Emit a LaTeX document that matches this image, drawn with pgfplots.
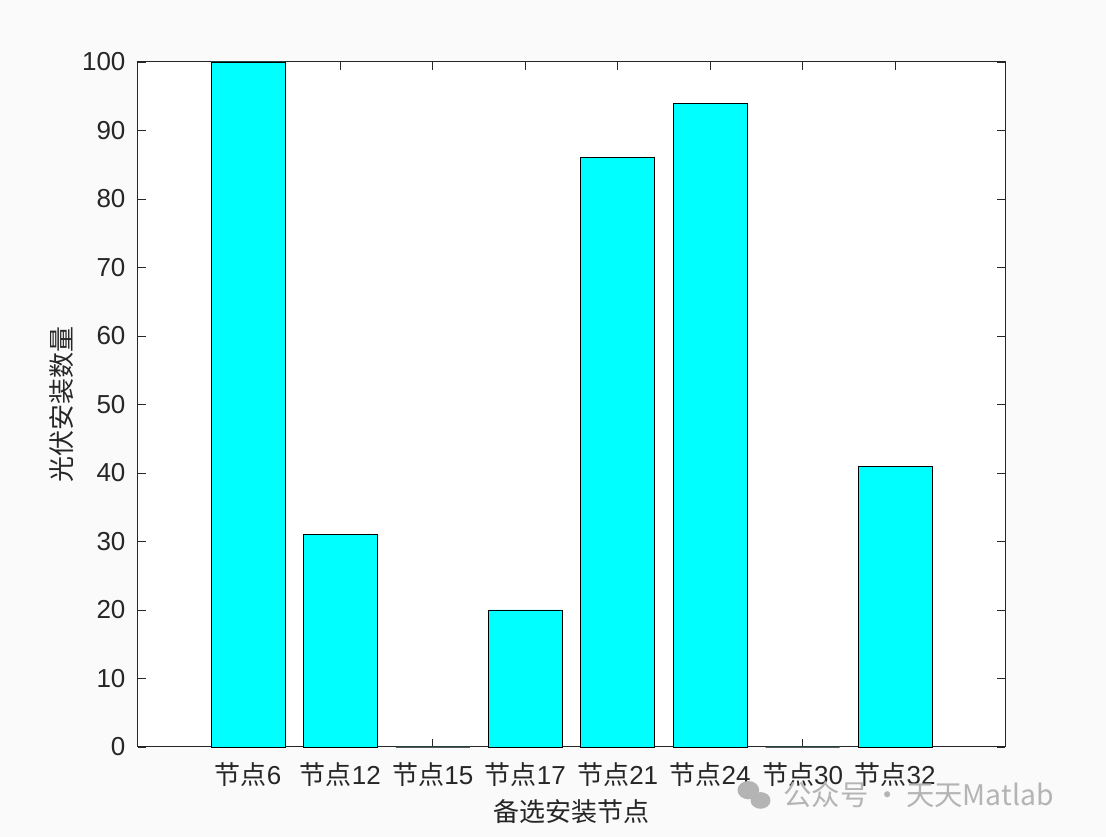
\documentclass[border=0pt]{standalone}
\usepackage{pgfplots}
\pgfplotsset{compat=1.18}
\usepackage{fontspec}
\setmainfont{Liberation Sans}
\newfontfamily\cjk{Noto Sans CJK SC}
\definecolor{figbg}{HTML}{FAFAFA}
\definecolor{wm}{HTML}{B4B4B4}
\definecolor{barcyan}{RGB}{0,255,255}
\definecolor{txt}{HTML}{262626}
\begin{document}
\begin{tikzpicture}
\fill[figbg] (-82.8pt,-54pt) rectangle (580.8pt,448.2pt);
\useasboundingbox (-82.8pt,-54pt) rectangle (580.8pt,448.2pt);
\begin{axis}[
  at={(0pt,0pt)}, anchor=south west,
  scale only axis,
  clip=false,
  width=520.2pt, height=411pt,
  axis background/.style={fill=white},
  xmin=-0.19, xmax=9.19, ymin=0, ymax=100,
  xtick={1,2,3,4,5,6,7,8},
  xticklabels={{\cjk 节点}6,{\cjk 节点}12,{\cjk 节点}15,{\cjk 节点}17,{\cjk 节点}21,{\cjk 节点}24,{\cjk 节点}30,{\cjk 节点}32},
  ytick={0,10,...,100},
  tick align=inside,
  major tick length=5pt,
  tick style={txt, line width=0.5pt},
  axis line style={txt, line width=0.6pt},
  ticklabel style={font=\fontsize{15.6}{18}\selectfont, text=txt},
  /pgf/number format/assume math mode=true,
  xticklabel style={text height=11pt, text depth=2pt, yshift=-8pt},
  yticklabel style={xshift=-4pt},
  xlabel={\cjk 备选安装节点},
  ylabel={\cjk 光伏安装数量},
  label style={font=\fontsize{15.6}{18}\selectfont, text=txt},
  xlabel style={at={(axis description cs:0.5,-0.095)}, anchor=center},
  ylabel style={at={(axis description cs:-0.0877,0.5)}, anchor=center, rotate=0},
]
\addplot[ybar, bar width=0.8, fill=barcyan, draw=black, line width=0.5pt] coordinates {
(1,100) (2,31) (3,0) (4,20) (5,86) (6,94) (7,0) (8,41)
};
\node[font=\fontsize{17}{18}\selectfont\cjk, text=wm, anchor=west, inner sep=0pt] at (axis description cs:0.744,-0.070) {公众号\,·\,天天Matlab};
\fill[wm] (axis description cs:0.704,-0.063) ellipse (6.5pt and 5.5pt);
\fill[wm] (axis description cs:0.718,-0.078) ellipse (6pt and 5pt);
\end{axis}
\end{tikzpicture}
\end{document}
